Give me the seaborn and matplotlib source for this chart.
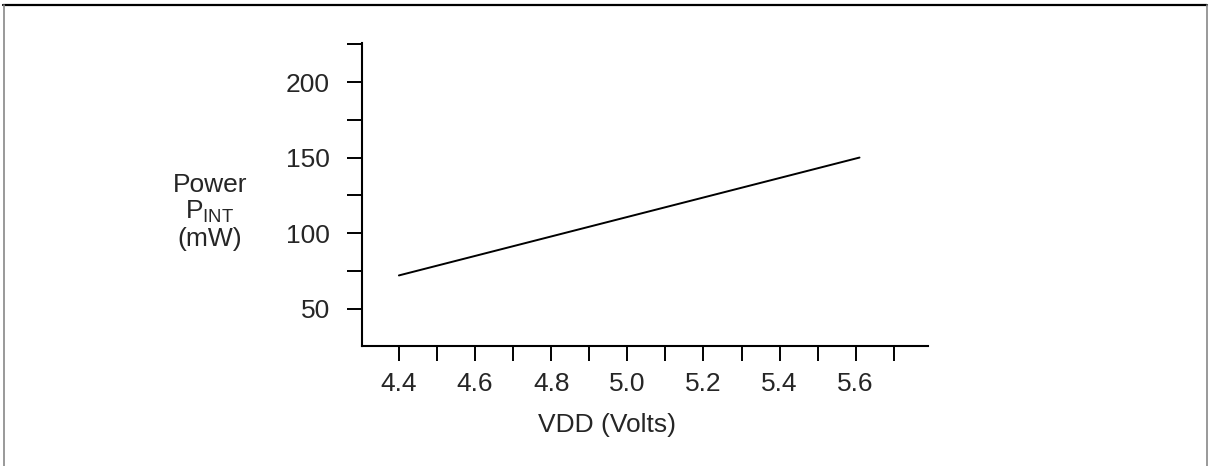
import matplotlib
matplotlib.use("Agg")
import matplotlib.pyplot as plt
import seaborn as sns
import pandas as pd
from matplotlib.lines import Line2D
from matplotlib.ticker import MultipleLocator, FixedLocator

# Data
vdd = [4.4, 5.61]
power = [72, 150]
x_major_ticks = [4.4, 4.6, 4.8, 5.0, 5.2, 5.4, 5.6]
y_major_ticks = [50, 100, 150, 200]

sns.set_style("ticks")
plt.rcParams['font.family'] = ['Liberation Sans', 'DejaVu Sans']
plt.rcParams['mathtext.fontset'] = 'custom'
plt.rcParams['mathtext.rm'] = 'Liberation Sans'
plt.rcParams['mathtext.it'] = 'Liberation Sans'

FS = 19

fig = plt.figure(figsize=(12.09, 4.66), dpi=100)
ax = fig.add_axes([0.2994, 0.2575, 0.7676 - 0.2994, 0.9077 - 0.2575])

df = pd.DataFrame({"VDD": vdd, "Power": power})
sns.lineplot(data=df, x="VDD", y="Power", ax=ax, color="black", linewidth=1.4)

ax.set_xlim(4.303, 5.79)
ax.set_ylim(25.3, 225.8)

ax.xaxis.set_major_locator(FixedLocator(x_major_ticks))
ax.xaxis.set_minor_locator(MultipleLocator(0.1))
ax.set_xticklabels([f"{t:.1f}" for t in x_major_ticks])
ax.yaxis.set_major_locator(FixedLocator(y_major_ticks))
ax.yaxis.set_minor_locator(MultipleLocator(25))
ax.set_yticklabels([str(t) for t in y_major_ticks])

for which in ("major", "minor"):
    ax.tick_params(axis="both", which=which, length=11, width=1.4, color="black",
                   direction="out")
ax.tick_params(axis="y", which="major", pad=12, labelsize=FS)
ax.tick_params(axis="x", which="major", pad=8, labelsize=FS)

sns.despine(ax=ax)
for s in ("left", "bottom"):
    ax.spines[s].set_linewidth(1.5)
    ax.spines[s].set_color("black")

ax.set_xlabel("VDD (Volts)", fontsize=FS)
ax.xaxis.set_label_coords(0.433, -0.26)
ax.xaxis.label.set_va("center")

ax.set_ylabel("Power\nP$_{\\mathrm{INT}}$\n(mW)", fontsize=FS, rotation=0,
              ha="center", va="center", linespacing=1.1)
ax.yaxis.set_label_coords(-0.2686, 0.442)

# figure frame (top, left, right)
fig.add_artist(Line2D([0.0025, 0.9985], [0.989, 0.989], transform=fig.transFigure,
                      color="black", linewidth=1.6))
fig.add_artist(Line2D([0.0029, 0.0029], [0.0, 0.989], transform=fig.transFigure,
                      color="#888888", linewidth=1.2))
fig.add_artist(Line2D([0.9985, 0.9985], [0.0, 0.989], transform=fig.transFigure,
                      color="#888888", linewidth=1.2))

fig.savefig("out.png", dpi=100)
